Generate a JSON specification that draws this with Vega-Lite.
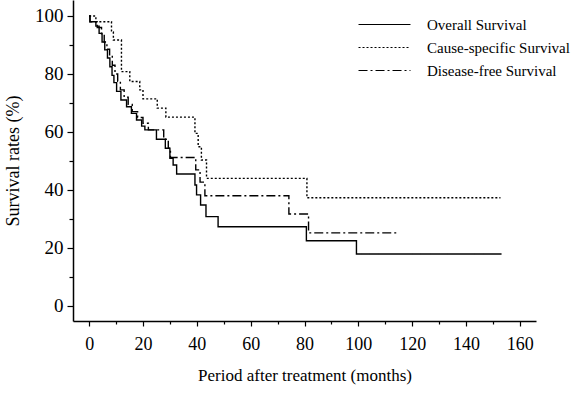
{
  "$schema": "https://vega.github.io/schema/vega-lite/v6.json",
  "width": 463,
  "height": 321,
  "autosize": {"type": "none"},
  "padding": {"left": 73, "top": 0, "right": 45, "bottom": 72},
  "background": "white",
  "config": {
    "view": {"stroke": null},
    "axis": {
      "grid": false,
      "domainColor": "black",
      "domainWidth": 1.5,
      "tickColor": "black",
      "tickWidth": 1.2,
      "labelFont": "Liberation Serif",
      "labelColor": "black",
      "titleFont": "Liberation Serif",
      "titleColor": "black",
      "titleFontWeight": "normal"
    },
    "legend": {
      "labelFont": "Liberation Serif",
      "labelColor": "black"
    }
  },
  "data": {
    "values": [
      {"series": "Overall Survival", "t": 0, "s": 100},
      {"series": "Overall Survival", "t": 0.3, "s": 98},
      {"series": "Overall Survival", "t": 2.5, "s": 96.5},
      {"series": "Overall Survival", "t": 3.7, "s": 94},
      {"series": "Overall Survival", "t": 4.8, "s": 91},
      {"series": "Overall Survival", "t": 5.8, "s": 88.3},
      {"series": "Overall Survival", "t": 6.8, "s": 85.5},
      {"series": "Overall Survival", "t": 7.7, "s": 82.5},
      {"series": "Overall Survival", "t": 8.5, "s": 79.5},
      {"series": "Overall Survival", "t": 9.2, "s": 77},
      {"series": "Overall Survival", "t": 10.2, "s": 74},
      {"series": "Overall Survival", "t": 11.8, "s": 71},
      {"series": "Overall Survival", "t": 13.9, "s": 68.7},
      {"series": "Overall Survival", "t": 15.7, "s": 66.4},
      {"series": "Overall Survival", "t": 17.6, "s": 64.1},
      {"series": "Overall Survival", "t": 19.5, "s": 62},
      {"series": "Overall Survival", "t": 20.7, "s": 60.7},
      {"series": "Overall Survival", "t": 25, "s": 57.5},
      {"series": "Overall Survival", "t": 28.3, "s": 54.4},
      {"series": "Overall Survival", "t": 30, "s": 50.9},
      {"series": "Overall Survival", "t": 31.2, "s": 48.6},
      {"series": "Overall Survival", "t": 32.5, "s": 45.5},
      {"series": "Overall Survival", "t": 39.3, "s": 41.7},
      {"series": "Overall Survival", "t": 39.9, "s": 38.3},
      {"series": "Overall Survival", "t": 41.4, "s": 34.8},
      {"series": "Overall Survival", "t": 43.4, "s": 30.8},
      {"series": "Overall Survival", "t": 47.9, "s": 27.3},
      {"series": "Overall Survival", "t": 80.7, "s": 22.5},
      {"series": "Overall Survival", "t": 99.3, "s": 17.9},
      {"series": "Overall Survival", "t": 153.2, "s": 17.9},
      {"series": "Cause-specific Survival", "t": 0, "s": 100},
      {"series": "Cause-specific Survival", "t": 2.5, "s": 98},
      {"series": "Cause-specific Survival", "t": 8.3, "s": 94.5},
      {"series": "Cause-specific Survival", "t": 9, "s": 91.7},
      {"series": "Cause-specific Survival", "t": 12, "s": 80.8},
      {"series": "Cause-specific Survival", "t": 15.1, "s": 77.4},
      {"series": "Cause-specific Survival", "t": 18.8, "s": 74.5},
      {"series": "Cause-specific Survival", "t": 20, "s": 71.4},
      {"series": "Cause-specific Survival", "t": 25.3, "s": 68.2},
      {"series": "Cause-specific Survival", "t": 28.5, "s": 65.1},
      {"series": "Cause-specific Survival", "t": 39.3, "s": 59.5},
      {"series": "Cause-specific Survival", "t": 40.5, "s": 54.9},
      {"series": "Cause-specific Survival", "t": 41.7, "s": 50.3},
      {"series": "Cause-specific Survival", "t": 43.6, "s": 44.0},
      {"series": "Cause-specific Survival", "t": 80.9, "s": 37.3},
      {"series": "Cause-specific Survival", "t": 152.8, "s": 37.3},
      {"series": "Disease-free Survival", "t": 0, "s": 100},
      {"series": "Disease-free Survival", "t": 0.3, "s": 98},
      {"series": "Disease-free Survival", "t": 3, "s": 96},
      {"series": "Disease-free Survival", "t": 4.6, "s": 93.5},
      {"series": "Disease-free Survival", "t": 5.6, "s": 91},
      {"series": "Disease-free Survival", "t": 6.6, "s": 88.5},
      {"series": "Disease-free Survival", "t": 7.6, "s": 86},
      {"series": "Disease-free Survival", "t": 8.6, "s": 83},
      {"series": "Disease-free Survival", "t": 9.6, "s": 80},
      {"series": "Disease-free Survival", "t": 10.6, "s": 77.5},
      {"series": "Disease-free Survival", "t": 11.6, "s": 74.5},
      {"series": "Disease-free Survival", "t": 13, "s": 72},
      {"series": "Disease-free Survival", "t": 14.5, "s": 69.5},
      {"series": "Disease-free Survival", "t": 16, "s": 67},
      {"series": "Disease-free Survival", "t": 18, "s": 65},
      {"series": "Disease-free Survival", "t": 20, "s": 63},
      {"series": "Disease-free Survival", "t": 22, "s": 60.7},
      {"series": "Disease-free Survival", "t": 27.7, "s": 57.5},
      {"series": "Disease-free Survival", "t": 29.4, "s": 54.4},
      {"series": "Disease-free Survival", "t": 30.2, "s": 51.2},
      {"series": "Disease-free Survival", "t": 39.6, "s": 46.9},
      {"series": "Disease-free Survival", "t": 41.2, "s": 42.7},
      {"series": "Disease-free Survival", "t": 43, "s": 38},
      {"series": "Disease-free Survival", "t": 74.2, "s": 31.7},
      {"series": "Disease-free Survival", "t": 81.5, "s": 25.2},
      {"series": "Disease-free Survival", "t": 114.8, "s": 25.2}
    ]
  },
  "mark": {"type": "line", "interpolate": "step-after", "color": "black", "strokeWidth": 1.4},
  "encoding": {
    "x": {
      "field": "t",
      "type": "quantitative",
      "scale": {"domain": [-6, 166], "nice": false, "zero": false},
      "axis": {
        "title": "Period after treatment (months)",
        "values": [0, 10, 20, 30, 40, 50, 60, 70, 80, 90, 100, 110, 120, 130, 140, 150, 160],
        "labelExpr": "datum.value % 20 === 0 ? datum.label : ''",
        "tickSize": {"condition": {"test": "datum.value % 20 === 0", "value": 5}, "value": 3},
        "labelFontSize": 18,
        "labelPadding": 9,
        "titleFontSize": 17,
        "titlePadding": 14
      }
    },
    "y": {
      "field": "s",
      "type": "quantitative",
      "scale": {"domain": [-5.2, 105.5], "nice": false, "zero": false},
      "axis": {
        "title": "Survival rates (%)",
        "values": [0, 10, 20, 30, 40, 50, 60, 70, 80, 90, 100],
        "labelExpr": "datum.value % 20 === 0 ? datum.label : ''",
        "tickSize": {"condition": {"test": "datum.value % 20 === 0", "value": 6}, "value": 4},
        "labelFontSize": 19,
        "labelPadding": 4,
        "titleFontSize": 18,
        "titlePadding": 12
      }
    },
    "strokeDash": {
      "field": "series",
      "type": "nominal",
      "scale": {
        "domain": ["Overall Survival", "Cause-specific Survival", "Disease-free Survival"],
        "range": [[1, 0], [2, 2], [9, 3, 2, 3]]
      },
      "legend": {
        "title": null,
        "orient": "none",
        "legendX": 304,
        "legendY": 17,
        "padding": 0,
        "symbolType": "M-10,0H10",
        "symbolSize": 27,
        "symbolStrokeWidth": 1.2,
        "symbolStrokeColor": "black",
        "symbolFillColor": "transparent",
        "labelFontSize": 15,
        "labelOffset": 35,
        "rowPadding": 7
      }
    }
  }
}
